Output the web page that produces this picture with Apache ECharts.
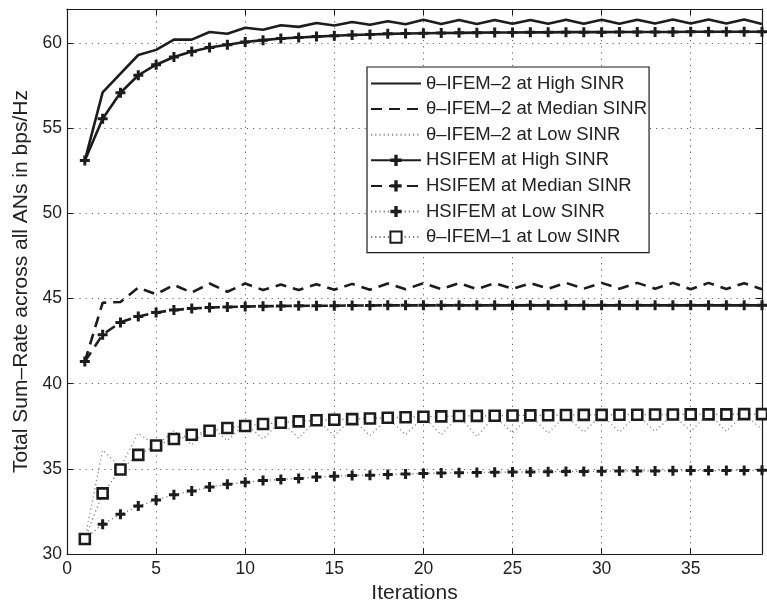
<!DOCTYPE html>
<html>
<head>
<meta charset="utf-8">
<script src="https://cdn.jsdelivr.net/npm/echarts@6/dist/echarts.min.js"></script>
<style>html,body{margin:0;padding:0;background:#fff;}#c{width:767px;height:609px;}</style>
</head>
<body>
<div id="c"></div>
<script>
var iterations = [1,2,3,4,5,6,7,8,9,10,11,12,13,14,15,16,17,18,19,20,21,22,23,24,25,26,27,28,29,30,31,32,33,34,35,36,37,38,39];
var seriesNames = ['θ–IFEM–2 at High SINR','θ–IFEM–2 at Median SINR','θ–IFEM–2 at Low SINR','HSIFEM at High SINR','HSIFEM at Median SINR','HSIFEM at Low SINR','θ–IFEM–1 at Low SINR'];
var thetaHigh = [53.1,57.1,58.2,59.3,59.6,60.2,60.2,60.65,60.55,60.9,60.78,61.05,60.95,61.18,61.03,61.24,61.08,61.28,61.1,61.37,61.12,61.36,61.12,61.36,61.13,61.36,61.13,61.37,61.14,61.37,61.14,61.37,61.15,61.38,61.15,61.38,61.15,61.38,61.12];
var thetaMed = [41.3,44.75,44.8,45.64,45.25,45.8,45.35,45.88,45.4,45.88,45.5,45.82,45.5,45.84,45.52,45.86,45.52,45.88,45.54,45.9,45.55,45.9,45.56,45.9,45.57,45.9,45.58,45.92,45.58,45.92,45.58,45.92,45.58,45.92,45.55,45.92,45.56,45.9,45.55];
var thetaLow = [30.9,36.1,35.1,37.1,36.35,37.25,36.4,37.55,36.65,37.7,36.75,37.8,36.8,37.9,36.95,37.95,36.95,38.0,37.0,38.05,37.0,38.1,36.9,38.1,37.1,38.15,37.1,38.15,37.15,38.2,37.15,38.2,37.2,38.2,37.2,38.25,37.2,38.25,37.3];
var hsHigh = [53.1,55.55,57.08,58.11,58.73,59.18,59.51,59.74,59.9,60.06,60.17,60.27,60.33,60.38,60.43,60.47,60.5,60.54,60.56,60.58,60.59,60.6,60.61,60.62,60.62,60.63,60.63,60.64,60.64,60.64,60.65,60.65,60.65,60.65,60.66,60.66,60.66,60.66,60.66];
var hsMed = [41.3,42.88,43.6,43.95,44.18,44.32,44.42,44.47,44.5,44.53,44.55,44.56,44.57,44.58,44.58,44.59,44.59,44.6,44.6,44.6,44.6,44.6,44.6,44.6,44.6,44.6,44.6,44.6,44.6,44.6,44.6,44.6,44.6,44.6,44.6,44.6,44.6,44.6,44.6];
var hsLow = [30.9,31.75,32.33,32.82,33.17,33.48,33.7,33.93,34.09,34.22,34.32,34.38,34.44,34.52,34.57,34.61,34.63,34.67,34.7,34.73,34.75,34.77,34.78,34.8,34.81,34.82,34.83,34.84,34.85,34.86,34.87,34.88,34.88,34.89,34.9,34.9,34.91,34.91,34.92];
var thetaOneLow = [30.88,33.56,34.96,35.82,36.37,36.75,37.0,37.24,37.4,37.52,37.63,37.71,37.79,37.85,37.88,37.92,37.96,38.0,38.03,38.06,38.08,38.1,38.11,38.12,38.13,38.14,38.15,38.16,38.17,38.17,38.18,38.18,38.19,38.19,38.2,38.2,38.2,38.21,38.21];
var xTicks = [0,5,10,15,20,25,30,35];
var yTicks = [30,35,40,45,50,55,60];

function pairs(vals){ return iterations.map(function(x,i){ return [x, vals[i]]; }); }

var INK = '#1c1c1c';
var FONT = '"Liberation Sans", Arial, sans-serif';
var PLUS = 'path://M3.5,0h3v3.5h3.5v3h-3.5v3.5h-3v-3.5h-3.5v-3h3.5z';

var chart = echarts.init(document.getElementById('c'), null, {renderer:'canvas'});

function axisCommon(){
  return {
    type:'value',
    axisLine:{show:true, onZero:false, lineStyle:{color:INK, width:1.2}},
    axisTick:{show:true, inside:true, length:6, lineStyle:{color:INK, width:1}},
    minorTick:{show:false}
  };
}

var xMain = axisCommon();
Object.assign(xMain, {
  position:'bottom', min:xTicks[0], max:39, interval:5,
  name:'Iterations', nameLocation:'middle', nameGap:29,
  nameTextStyle:{fontFamily:FONT, fontSize:21, color:'#222'},
  axisLabel:{show:true, margin:6, fontFamily:FONT, fontSize:17.5, color:'#222', showMaxLabel:false},
  splitLine:{show:true, lineStyle:{color:'#666', width:1, type:[1.2,5]}}
});
var xTop = axisCommon();
Object.assign(xTop, {position:'top', min:0, max:39, interval:5, axisLabel:{show:false}, splitLine:{show:false}});

var yMain = axisCommon();
Object.assign(yMain, {
  position:'left', min:yTicks[0], max:62, interval:5,
  name:'Total Sum–Rate across all ANs in bps/Hz', nameLocation:'middle', nameGap:31,
  nameTextStyle:{fontFamily:FONT, fontSize:21, color:'#222'},
  axisLabel:{show:true, margin:5, fontFamily:FONT, fontSize:17.5, color:'#222', showMaxLabel:false},
  splitLine:{show:true, lineStyle:{color:'#666', width:1, type:[1.2,5]}}
});
var yRight = axisCommon();
Object.assign(yRight, {position:'right', min:30, max:62, interval:5, axisLabel:{show:false}, splitLine:{show:false}});

function lineSeries(name, vals, lineStyle, symbol, symbolSize, itemStyle, z){
  return {
    name:name, type:'line', data:pairs(vals), xAxisIndex:0, yAxisIndex:0,
    showSymbol: symbol !== 'none', symbol:symbol, symbolSize:symbolSize,
    lineStyle:lineStyle, itemStyle:itemStyle, animation:false, z:z,
    emphasis:{disabled:true}
  };
}

var noSymbolLegend = {0:true, 1:true, 2:true};

var option = {
  animation:false,
  backgroundColor:'#fff',
  textStyle:{fontFamily:FONT},
  grid:{left:67, right:5, top:9, bottom:51, containLabel:false},
  xAxis:[xMain, xTop],
  yAxis:[yMain, yRight],
  legend:{
    show:true, orient:'vertical', left:367, top:67,
    backgroundColor:'#fff', borderColor:INK, borderWidth:1.2,
    padding:[7,2,6,3], itemWidth:50, itemHeight:14, itemGap:6.6,
    textStyle:{fontFamily:FONT, fontSize:18.5, color:'#222', lineHeight:17},
    data:seriesNames.map(function(n, i){
      var d = {name:n};
      if (noSymbolLegend[i]) { d.itemStyle = {opacity:0}; }
      return d;
    })
  },
  series:[
    lineSeries(seriesNames[0], thetaHigh, {color:INK, width:2.6, type:'solid'}, 'none', 0, {color:INK}, 2),
    lineSeries(seriesNames[1], thetaMed, {color:INK, width:2.6, type:[11,7]}, 'none', 0, {color:INK}, 2),
    lineSeries(seriesNames[2], thetaLow, {color:'#8a8a8a', width:1.3, type:[1.2,3]}, 'none', 0, {color:'#8a8a8a'}, 2),
    lineSeries(seriesNames[3], hsHigh, {color:INK, width:2.6, type:'solid'}, PLUS, 10, {color:INK}, 3),
    lineSeries(seriesNames[4], hsMed, {color:INK, width:2.6, type:[11,7]}, PLUS, 10, {color:INK}, 3),
    lineSeries(seriesNames[5], hsLow, {color:'#777', width:1.3, type:[1.2,3]}, PLUS, 10, {color:INK}, 3),
    lineSeries(seriesNames[6], thetaOneLow, {color:'#777', width:1.3, type:[1.2,3]}, 'rect', 10, {color:'#fff', borderColor:INK, borderWidth:2.6}, 4)
  ]
};
chart.setOption(option);
</script>
</body>
</html>
